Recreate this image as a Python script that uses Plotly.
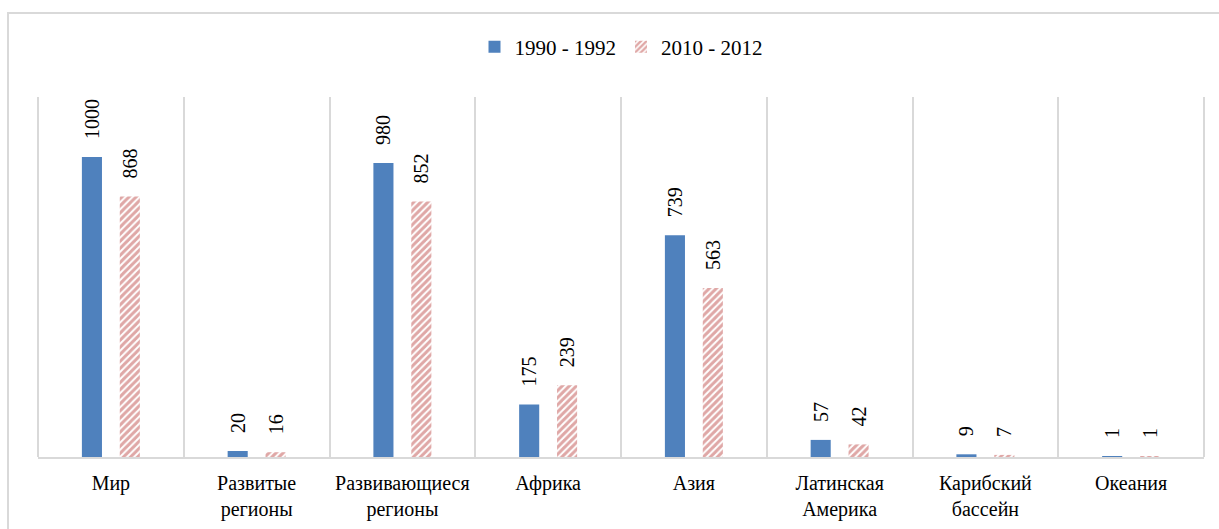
import plotly.graph_objects as go

categories = ["Мир", "Развитые<br>регионы", "Развивающиеся<br>регионы", "Африка", "Азия",
              "Латинская<br>Америка", "Карибский<br>бассейн", "Океания"]
series_1990 = [1000, 20, 980, 175, 739, 57, 9, 1]
series_2010 = [868, 16, 852, 239, 563, 42, 7, 1]
name_1990 = "1990 - 1992"
name_2010 = "2010 - 2012"

FONT = "Liberation Serif"
PAD = "\u00a0\u00a0\u00a0"  # gap between bar top and rotated label

fig = go.Figure()
fig.add_trace(go.Bar(
    x=categories, y=series_1990, name=name_1990,
    marker=dict(color="#4F81BD", line=dict(width=0)),
    text=[PAD + str(v) for v in series_1990], textposition="outside", textangle=-90,
    textfont=dict(family=FONT, size=20, color="#000000"), cliponaxis=False,
))
fig.add_trace(go.Bar(
    x=categories, y=series_2010, name=name_2010,
    marker=dict(color="#FFFFFF", line=dict(width=0),
                pattern=dict(shape="/", fgcolor="#C0504D", bgcolor="#FFFFFF", size=5, solidity=0.6)),
    text=[PAD + str(v) for v in series_2010], textposition="outside", textangle=-90,
    textfont=dict(family=FONT, size=20, color="#000000"), cliponaxis=False,
))

fig.update_layout(
    width=1219, height=529,
    margin=dict(l=38, r=15, t=97, b=72, autoexpand=False),
    paper_bgcolor="white", plot_bgcolor="white",
    barmode="group", bargap=0.48, bargroupgap=0.47,
    font=dict(family=FONT, size=20, color="#000000"),
    legend=dict(orientation="h", x=0.5, xanchor="center", y=(457 - 47) / 360, yanchor="middle",
                bgcolor="rgba(0,0,0,0)",
                font=dict(family=FONT, size=21, color="#000000"), itemwidth=30, tracegroupgap=0),
    uniformtext=dict(minsize=20, mode="show"),
    xaxis=dict(tickson="boundaries", showgrid=True, gridcolor="#D9D9D9", gridwidth=2,
               showline=True, linecolor="#D9D9D9", linewidth=2, mirror=False, tickangle=0,
               ticklabelstandoff=7,
               ticks="", tickfont=dict(family=FONT, size=20, color="#000000"), fixedrange=True),
    yaxis=dict(range=[0, 1200], visible=False, showgrid=False, zeroline=False, fixedrange=True),
    shapes=[
        dict(type="rect", xref="paper", yref="paper",
             x0=(8 - 38) / 1166, x1=1.2, y0=-0.5, y1=(457 - 13) / 360,
             line=dict(color="#D9D9D9", width=2), fillcolor="rgba(0,0,0,0)", layer="below"),
        dict(type="line", xref="paper", yref="paper", x0=0, x1=0, y0=0, y1=1,
             line=dict(color="#D9D9D9", width=2)),
        dict(type="line", xref="paper", yref="paper", x0=1, x1=1, y0=0, y1=1,
             line=dict(color="#D9D9D9", width=2)),
    ],
)

fig.write_html("out.html", config={"displayModeBar": False},
               post_script="document.body.style.margin='0';")
